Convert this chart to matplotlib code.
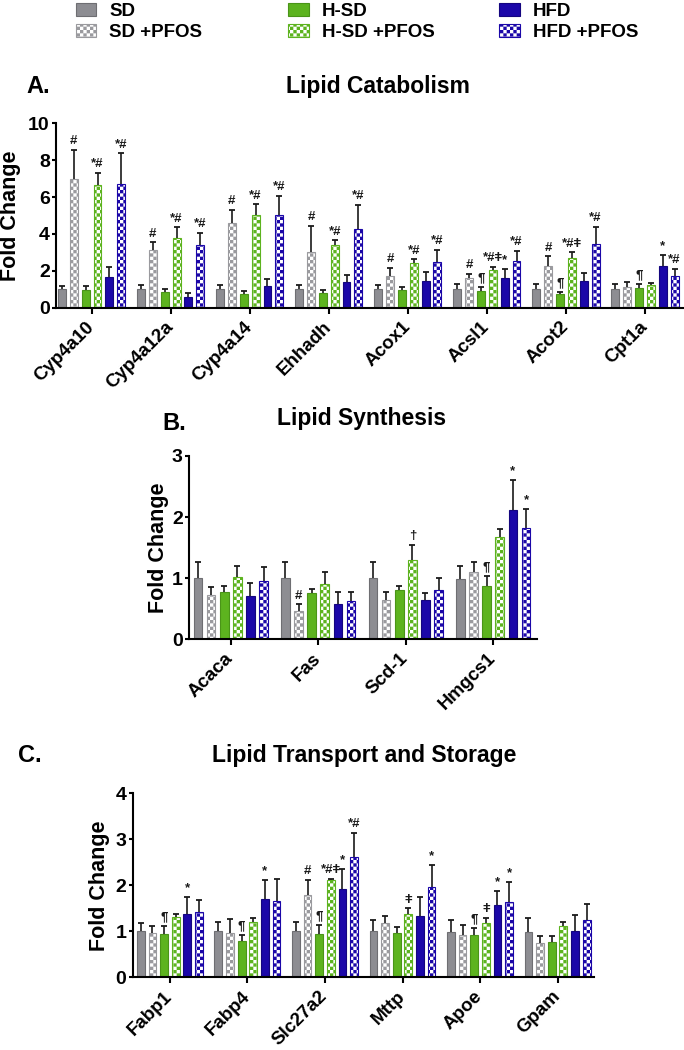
import warnings
warnings.filterwarnings('ignore')
import numpy as np
import matplotlib
matplotlib.use('Agg')
import matplotlib.pyplot as plt
import matplotlib.hatch as mhatch
from matplotlib.path import Path

# ---------------- checkerboard hatch ----------------
class CheckerHatch(mhatch.HatchPatternBase):
    def __init__(self, hatch, density):
        n = 30 if 'c' in hatch else 0
        self.n = n
        self.cells = [(i, j) for i in range(n) for j in range(n) if (i + j) % 2 == 0]
        self.num_vertices = len(self.cells) * 5

    def set_vertices_and_codes(self, vertices, codes):
        s = 1.0 / self.n
        for k, (i, j) in enumerate(self.cells):
            x0, y0 = i * s, j * s
            vertices[5*k:5*k+5] = [(x0, y0), (x0+s, y0), (x0+s, y0+s), (x0, y0+s), (x0, y0)]
            codes[5*k:5*k+5] = [Path.MOVETO, Path.LINETO, Path.LINETO, Path.LINETO, Path.CLOSEPOLY]

mhatch._hatch_types.append(CheckerHatch)
mhatch._validate_hatch_pattern = lambda h: None

plt.rcParams['font.family'] = ['Liberation Sans', 'DejaVu Sans']
plt.rcParams['font.weight'] = 'bold'
plt.rcParams['hatch.linewidth'] = 0.0

# ---------------- data ----------------
series = ['SD', 'SD +PFOS', 'H-SD', 'H-SD +PFOS', 'HFD', 'HFD +PFOS']

# Panel A: Lipid Catabolism
genes_A = ['Cyp4a10', 'Cyp4a12a', 'Cyp4a14', 'Ehhadh', 'Acox1', 'Acsl1', 'Acot2', 'Cpt1a']
A_sd      = [1.00, 1.00, 1.00, 1.00, 1.00, 1.00, 1.00, 1.00]
A_sd_p    = [6.96, 3.13, 4.58, 3.02, 1.74, 1.59, 2.24, 1.10]
A_hsd     = [0.96, 0.83, 0.76, 0.80, 0.96, 0.92, 0.72, 1.07]
A_hsd_p   = [6.64, 3.78, 5.01, 3.38, 2.40, 2.04, 2.68, 1.25]
A_hfd     = [1.65, 0.60, 1.18, 1.39, 1.46, 1.63, 1.46, 2.24]
A_hfd_p   = [6.71, 3.40, 5.01, 4.25, 2.50, 2.53, 3.47, 1.74]
A_sd_e    = [0.20, 0.25, 0.25, 0.25, 0.23, 0.27, 0.27, 0.27]
A_sd_p_e  = [1.59, 0.41, 0.72, 1.41, 0.43, 0.24, 0.54, 0.29]
A_hsd_e   = [0.23, 0.20, 0.16, 0.18, 0.18, 0.20, 0.13, 0.20]
A_hsd_p_e = [0.68, 0.58, 0.59, 0.27, 0.22, 0.18, 0.32, 0.09]
A_hfd_e   = [0.57, 0.18, 0.36, 0.38, 0.46, 0.45, 0.40, 0.60]
A_hfd_p_e = [1.66, 0.67, 1.05, 1.32, 0.63, 0.54, 0.91, 0.38]
A_marks = [(0, 1, '#'), (0, 3, '*#'), (0, 5, '*#'),
           (1, 1, '#'), (1, 3, '*#'), (1, 5, '*#'),
           (2, 1, '#'), (2, 3, '*#'), (2, 5, '*#'),
           (3, 1, '#'), (3, 3, '*#'), (3, 5, '*#'),
           (4, 1, '#'), (4, 3, '*#'), (4, 5, '*#'),
           (5, 1, '#'), (5, 2, '¶'), (5, 3, '*#ǂ'), (5, 4, '*'), (5, 5, '*#'),
           (6, 1, '#'), (6, 2, '¶'), (6, 3, '*#ǂ'), (6, 5, '*#'),
           (7, 2, '¶'), (7, 4, '*'), (7, 5, '*#')]

# Panel B: Lipid Synthesis
genes_B = ['Acaca', 'Fas', 'Scd-1', 'Hmgcs1']
B_sd      = [1.00, 1.00, 1.00, 0.99]
B_sd_p    = [0.73, 0.47, 0.65, 1.10]
B_hsd     = [0.77, 0.75, 0.81, 0.88]
B_hsd_p   = [1.02, 0.91, 1.29, 1.67]
B_hfd     = [0.71, 0.58, 0.64, 2.11]
B_hfd_p   = [0.95, 0.63, 0.80, 1.82]
B_sd_e    = [0.27, 0.27, 0.27, 0.21]
B_sd_p_e  = [0.13, 0.10, 0.12, 0.17]
B_hsd_e   = [0.11, 0.08, 0.06, 0.15]
B_hsd_p_e = [0.18, 0.19, 0.26, 0.13]
B_hfd_e   = [0.21, 0.19, 0.11, 0.50]
B_hfd_p_e = [0.23, 0.14, 0.21, 0.32]
B_marks = [(1, 1, '#'), (2, 3, '†'), (3, 2, '¶'), (3, 4, '*'), (3, 5, '*')]

# Panel C: Lipid Transport and Storage
genes_C = ['Fabp1', 'Fabp4', 'Slc27a2', 'Mttp', 'Apoe', 'Gpam']
C_sd      = [1.00, 1.00, 1.00, 1.00, 0.98, 0.98]
C_sd_p    = [0.97, 0.96, 1.78, 1.17, 0.93, 0.75]
C_hsd     = [0.94, 0.80, 0.94, 0.97, 0.92, 0.76]
C_hsd_p   = [1.32, 1.20, 2.12, 1.38, 1.18, 1.12]
C_hfd     = [1.37, 1.70, 1.92, 1.33, 1.58, 1.00]
C_hfd_p   = [1.42, 1.66, 2.61, 1.96, 1.64, 1.25]
C_sd_e    = [0.18, 0.21, 0.21, 0.24, 0.27, 0.30]
C_sd_p_e  = [0.14, 0.31, 0.34, 0.16, 0.21, 0.14]
C_hsd_e   = [0.17, 0.11, 0.20, 0.13, 0.16, 0.14]
C_hsd_p_e = [0.06, 0.10, 0.02, 0.12, 0.12, 0.08]
C_hfd_e   = [0.38, 0.42, 0.43, 0.42, 0.30, 0.35]
C_hfd_p_e = [0.27, 0.47, 0.53, 0.49, 0.44, 0.34]
C_marks = [(0, 2, '¶'), (0, 4, '*'),
           (1, 2, '¶'), (1, 4, '*'),
           (2, 1, '#'), (2, 2, '¶'), (2, 3, '*#ǂ'), (2, 4, '*'), (2, 5, '*#'),
           (3, 3, 'ǂ'), (3, 5, '*'),
           (4, 2, '¶'), (4, 3, 'ǂ'), (4, 4, '*'), (4, 5, '*'),
           ]

# ---------------- styling ----------------
colors = ['#8D8D92', '#8D8D92', '#5DB31F', '#5DB31F', '#1B07A8', '#1B07A8']
edges = ['#6E6E72', '#9A9A9E', '#4A9418', '#5DB31F', '#14057F', '#1B07A8']
checker = [False, True, False, True, False, True]
ink = '#1a1a1a'

W, H = 684, 1050
fig = plt.figure(figsize=(W / 100, H / 100), dpi=100)


def px_axes(l, t, r, b):
    return fig.add_axes([l / W, 1 - b / H, (r - l) / W, (b - t) / H])


def panel(ax, genes, vals, errs, marks, ymax, ystep, xlim, ylab_x):
    x = np.arange(len(genes))
    pitch, bw = 0.15, 0.10
    containers = []
    for k in range(6):
        xs = x + (k - 2.5) * pitch
        v = np.array(vals[k])
        e = np.array(errs[k])
        if checker[k]:
            bc = ax.bar(xs, v, bw, color='white', edgecolor=edges[k], hatch='c',
                        linewidth=0.8, zorder=2)
        else:
            bc = ax.bar(xs, v, bw, color=colors[k], edgecolor=edges[k],
                        linewidth=0.8, zorder=2)
        containers.append(bc)
        ax.vlines(xs, v, v + e, color=ink, lw=1.2, zorder=3)
        ax.plot(xs, v + e, ls='none', marker='_', ms=4, mew=1.3, color=ink, zorder=3)
    for gi, si, txt in marks:
        xx = gi + (si - 2.5) * pitch
        yy = vals[si][gi] + errs[si][gi]
        ax.annotate(txt, (xx, yy), xytext=(0, 2.0), textcoords='offset points',
                    ha='center', va='bottom', fontsize=9.5, fontweight='bold', color=ink)
    ax.set_xlim(*xlim)
    ax.set_ylim(0, ymax)
    ax.set_yticks(np.arange(0, ymax + 0.001, ystep))
    ax.set_xticks(x)
    ax.set_xticklabels(genes, rotation=45, ha='right', va='center',
                       rotation_mode='anchor', fontsize=13.5, fontweight='bold')
    for lab in ax.get_yticklabels():
        lab.set_fontsize(14)
        lab.set_fontweight('bold')
    for s in ['top', 'right']:
        ax.spines[s].set_visible(False)
    for s in ['left', 'bottom']:
        ax.spines[s].set_linewidth(1.5)
    ax.tick_params(axis='y', direction='out', length=3, width=1.5, pad=1.5)
    ax.tick_params(axis='x', direction='out', length=4, width=1.5, pad=8)
    ax.set_ylabel('Fold Change', fontsize=15.5, fontweight='bold')
    ax.yaxis.set_label_coords(ylab_x, 0.5)
    ax.set_facecolor('none')
    return containers

axA = px_axes(56, 123.3, 684.5, 307.7)
cont = panel(axA, genes_A,
             [A_sd, A_sd_p, A_hsd, A_hsd_p, A_hfd, A_hfd_p],
             [A_sd_e, A_sd_p_e, A_hsd_e, A_hsd_p_e, A_hfd_e, A_hfd_p_e],
             A_marks, 10, 2, (-0.45, 7.5), (21 - 56) / 628.5)

axB = px_axes(189, 456, 537, 639.3)
panel(axB, genes_B,
      [B_sd, B_sd_p, B_hsd, B_hsd_p, B_hfd, B_hfd_p],
      [B_sd_e, B_sd_p_e, B_hsd_e, B_hsd_p_e, B_hfd_e, B_hfd_p_e],
      B_marks, 3, 1, (-0.477, 3.5), (169 - 189) / 348)

axC = px_axes(132.7, 793.3, 594, 977.3)
panel(axC, genes_C,
      [C_sd, C_sd_p, C_hsd, C_hsd_p, C_hfd, C_hfd_p],
      [C_sd_e, C_sd_p_e, C_hsd_e, C_hsd_p_e, C_hfd_e, C_hfd_p_e],
      C_marks, 4, 1, (-0.48, 5.47), (110 - 132.7) / 461.3)

# ---------------- titles & panel letters ----------------
def ftext(x, y, s, size, ha='left'):
    fig.text(x / W, 1 - y / H, s, fontsize=size, fontweight='bold', ha=ha, va='baseline')

ftext(378, 93, 'Lipid Catabolism', 16.5, ha='center')
ftext(26, 93, 'A.', 17)
ftext(362, 425, 'Lipid Synthesis', 16.5, ha='center')
ftext(162, 430, 'B.', 17)
ftext(364.5, 762, 'Lipid Transport and Storage', 16.5, ha='center')
ftext(18, 762, 'C.', 17)

# ---------------- legend ----------------
handles = [c.patches[0] for c in cont]
for col, xleft in enumerate([75.5, 288, 499]):
    leg = fig.legend(handles[2*col:2*col+2], series[2*col:2*col+2],
                     loc='upper left', bbox_to_anchor=(xleft / W, 1 - 3 / H),
                     frameon=False, borderpad=0, borderaxespad=0,
                     handlelength=1.1, handleheight=0.7, handletextpad=0.7,
                     labelspacing=0.2, prop={'size': 13.5, 'weight': 'bold'})

fig.savefig('out.png', dpi=100)
